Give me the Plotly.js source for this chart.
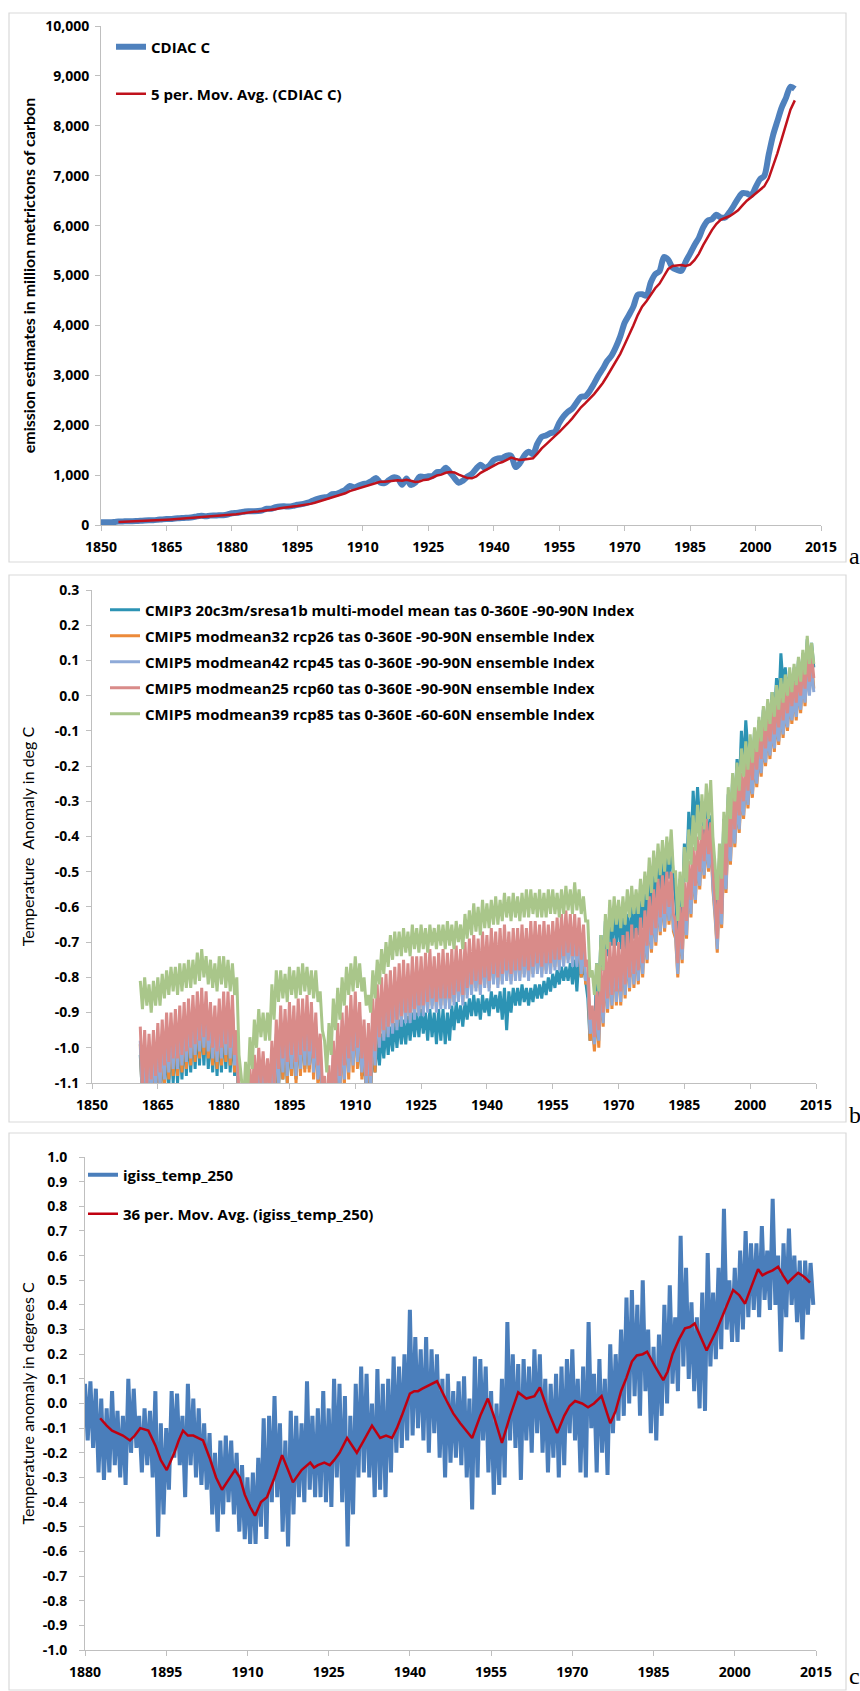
<!DOCTYPE html>
<html><head><meta charset="utf-8">
<script src="https://cdn.plot.ly/plotly-3.0.1.min.js"></script>
<style>html,body{margin:0;padding:0;background:#fff;}#chart{width:860px;height:1691px;}</style>
</head><body><div id="chart"></div>
<script>
// ---------- Panel a: CDIAC emissions (million metric tons C), 1850-2009 ----------
const cdiacStart = 1850;
const cdiac = [
54,54,57,59,69,71,76,77,78,83,
91,95,97,104,112,119,122,130,135,142,
147,156,173,184,174,188,191,194,196,210,
236,243,256,272,275,277,281,295,327,327,
356,372,374,370,383,406,419,440,465,507,
534,552,566,617,624,663,707,784,750,785,
819,836,879,943,850,838,901,955,936,806,
932,803,845,970,963,975,983,1062,1065,1145,
1053,940,847,893,973,1027,1130,1209,1142,1192,
1299,1334,1342,1391,1383,1160,1238,1392,1469,1419,
1630,1767,1795,1841,1865,2043,2177,2270,2330,2454,
2569,2580,2686,2833,2995,3130,3288,3393,3566,3780,
4053,4208,4376,4614,4623,4596,4864,5026,5087,5369,
5315,5152,5113,5094,5280,5439,5607,5752,5965,6097,
6127,6217,6164,6162,6266,6398,6542,6651,6643,6610,
6765,6927,6996,7416,7807,8093,8370,8566,8783,8740];
const cdiacMAStart = 1854;
const cdiacMA = [
59,62,66,70,74,77,
81,85,89,94,100,105,111,117,124,130,
135,142,151,160,167,175,182,186,189,196,
205,216,228,243,256,265,272,280,291,301,
317,335,351,360,371,381,390,404,423,447,
473,500,525,555,579,604,635,679,706,738,
769,795,814,852,865,869,882,897,896,887,
906,886,864,871,903,911,947,991,1010,1046,
1062,1053,1010,976,941,936,974,1046,1096,1140,
1194,1235,1262,1312,1350,1322,1303,1313,1328,1336,
1430,1535,1616,1690,1780,1862,1944,2039,2137,2255,
2360,2441,2524,2624,2733,2845,2986,3128,3274,3431,
3616,3800,3997,4206,4375,4483,4615,4745,4839,4988,
5132,5190,5207,5209,5191,5216,5307,5434,5609,5772,
5910,6032,6114,6153,6187,6241,6306,6404,6500,6569,
6642,6719,6788,6943,7182,7448,7736,8050,8324,8510];
const namesA = ["CDIAC C", "5 per. Mov. Avg. (CDIAC C)"];

// ---------- Panel b: model temperature indices, yearly upper / lower extent of monthly values, 1861-2014 ----------
const bStart = 1861;
const namesB = [
 "CMIP3 20c3m/sresa1b multi-model mean tas 0-360E -90-90N Index",
 "CMIP5 modmean32 rcp26 tas 0-360E -90-90N ensemble Index",
 "CMIP5 modmean42 rcp45 tas 0-360E -90-90N ensemble Index",
 "CMIP5 modmean25 rcp60 tas 0-360E -90-90N ensemble Index",
 "CMIP5 modmean39 rcp85 tas 0-360E -60-60N ensemble Index"];
const tealHi = [
-1.02,-1.03,-1.04,-1.03,-1.01,-1.00,-0.99,-0.98,-0.98,-0.97,
-0.96,-0.95,-0.94,-0.93,-0.92,-0.93,-0.95,-0.96,-0.95,-0.94,
-0.94,-0.95,-1.02,-1.18,-1.18,-1.14,-1.10,-1.08,-1.09,-1.10,
-1.06,-1.00,-0.97,-0.98,-0.96,-0.97,-0.95,-0.95,-0.96,-0.98,
-0.99,-1.04,-1.12,-1.10,-1.05,-1.01,-0.98,-0.96,-0.94,-0.96,
-0.99,-1.04,-1.05,-1.00,-0.97,-0.96,-0.94,-0.94,-0.93,-0.92,
-0.92,-0.91,-0.90,-0.90,-0.89,-0.90,-0.89,-0.90,-0.89,-0.89,
-0.90,-0.88,-0.87,-0.88,-0.87,-0.86,-0.85,-0.86,-0.85,-0.86,
-0.84,-0.85,-0.84,-0.83,-0.84,-0.83,-0.83,-0.82,-0.83,-0.83,
-0.82,-0.82,-0.81,-0.80,-0.79,-0.78,-0.77,-0.77,-0.76,-0.75,
-0.74,-0.76,-0.86,-0.92,-0.76,-0.68,-0.64,-0.61,-0.61,-0.62,
-0.63,-0.62,-0.60,-0.59,-0.57,-0.55,-0.52,-0.50,-0.47,-0.45,
-0.43,-0.42,-0.58,-0.52,-0.42,-0.33,-0.27,-0.26,-0.30,-0.32,
-0.34,-0.55,-0.46,-0.35,-0.28,-0.24,-0.18,-0.10,-0.07,-0.13,
-0.10,-0.07,-0.04,-0.02,0.01,0.05,0.12,0.08,0.06,0.08,
0.10,0.12,0.16,0.15];
const tealLo = [
-1.14,-1.15,-1.15,-1.14,-1.13,-1.12,-1.11,-1.10,-1.10,-1.09,
-1.08,-1.07,-1.06,-1.05,-1.05,-1.06,-1.07,-1.08,-1.07,-1.06,
-1.07,-1.08,-1.20,-1.26,-1.26,-1.22,-1.18,-1.16,-1.18,-1.19,
-1.16,-1.12,-1.09,-1.10,-1.08,-1.09,-1.07,-1.06,-1.06,-1.05,
-1.06,-1.12,-1.20,-1.18,-1.13,-1.09,-1.06,-1.04,-1.02,-1.03,
-1.08,-1.12,-1.12,-1.07,-1.05,-1.03,-1.02,-1.01,-1.00,-0.99,
-0.99,-0.98,-0.97,-0.97,-0.96,-0.98,-0.97,-0.99,-0.98,-0.99,
-0.98,-0.95,-0.93,-0.94,-0.92,-0.91,-0.91,-0.92,-0.90,-0.91,
-0.89,-0.90,-0.92,-0.95,-0.90,-0.88,-0.88,-0.87,-0.88,-0.87,
-0.86,-0.86,-0.85,-0.84,-0.83,-0.82,-0.81,-0.81,-0.82,-0.84,
-0.80,-0.82,-0.98,-0.99,-0.86,-0.78,-0.74,-0.71,-0.71,-0.72,
-0.72,-0.71,-0.69,-0.68,-0.66,-0.64,-0.61,-0.59,-0.56,-0.54,
-0.52,-0.52,-0.68,-0.62,-0.52,-0.44,-0.38,-0.36,-0.40,-0.42,
-0.44,-0.64,-0.56,-0.45,-0.37,-0.32,-0.27,-0.20,-0.16,-0.22,
-0.19,-0.15,-0.12,-0.10,-0.07,-0.03,0.03,0.00,-0.02,0.01,
0.03,0.05,0.08,0.08];
const orangeHi = [
-0.99,-1.00,-1.01,-1.00,-0.98,-0.97,-0.95,-0.95,-0.94,-0.93,
-0.92,-0.91,-0.90,-0.89,-0.88,-0.89,-0.92,-0.93,-0.91,-0.89,
-0.89,-0.90,-1.00,-1.17,-1.17,-1.11,-1.07,-1.05,-1.06,-1.08,
-1.03,-0.97,-0.93,-0.94,-0.92,-0.93,-0.91,-0.91,-0.90,-0.92,
-0.95,-1.01,-1.13,-1.10,-1.03,-0.98,-0.95,-0.93,-0.90,-0.89,
-0.92,-0.97,-0.98,-0.91,-0.87,-0.85,-0.84,-0.83,-0.82,-0.81,
-0.80,-0.81,-0.79,-0.79,-0.79,-0.78,-0.77,-0.79,-0.78,-0.77,
-0.78,-0.77,-0.76,-0.77,-0.75,-0.74,-0.73,-0.74,-0.72,-0.73,
-0.71,-0.72,-0.71,-0.70,-0.72,-0.71,-0.71,-0.70,-0.71,-0.69,
-0.69,-0.70,-0.69,-0.70,-0.69,-0.68,-0.67,-0.66,-0.67,-0.67,
-0.68,-0.70,-0.80,-0.93,-0.89,-0.82,-0.77,-0.75,-0.74,-0.75,
-0.73,-0.72,-0.70,-0.71,-0.68,-0.66,-0.62,-0.60,-0.57,-0.56,
-0.55,-0.55,-0.69,-0.65,-0.58,-0.52,-0.48,-0.45,-0.42,-0.40,
-0.41,-0.63,-0.55,-0.45,-0.38,-0.33,-0.30,-0.27,-0.24,-0.21,
-0.18,-0.16,-0.13,-0.10,-0.08,-0.06,-0.04,-0.03,-0.01,0.01,
0.03,0.05,0.09,0.10];
const orangeLo = [
-1.16,-1.16,-1.15,-1.14,-1.13,-1.11,-1.09,-1.08,-1.08,-1.07,
-1.06,-1.05,-1.04,-1.03,-1.02,-1.03,-1.05,-1.06,-1.05,-1.04,
-1.05,-1.07,-1.20,-1.26,-1.26,-1.21,-1.18,-1.16,-1.18,-1.19,
-1.16,-1.12,-1.09,-1.10,-1.08,-1.10,-1.08,-1.07,-1.07,-1.09,
-1.11,-1.16,-1.26,-1.24,-1.18,-1.14,-1.11,-1.09,-1.07,-1.06,
-1.09,-1.14,-1.14,-1.07,-0.99,-0.97,-0.96,-0.95,-0.94,-0.93,
-0.92,-0.92,-0.91,-0.90,-0.90,-0.89,-0.88,-0.89,-0.88,-0.88,
-0.88,-0.87,-0.86,-0.87,-0.85,-0.84,-0.83,-0.84,-0.82,-0.83,
-0.81,-0.82,-0.81,-0.80,-0.81,-0.80,-0.80,-0.79,-0.80,-0.79,
-0.78,-0.79,-0.78,-0.78,-0.77,-0.77,-0.76,-0.75,-0.76,-0.76,
-0.80,-0.82,-0.98,-1.01,-1.00,-0.94,-0.90,-0.89,-0.88,-0.88,
-0.86,-0.84,-0.83,-0.82,-0.80,-0.76,-0.73,-0.71,-0.68,-0.67,
-0.65,-0.67,-0.80,-0.76,-0.69,-0.63,-0.59,-0.55,-0.52,-0.50,
-0.55,-0.73,-0.66,-0.56,-0.48,-0.43,-0.39,-0.35,-0.32,-0.29,
-0.26,-0.23,-0.20,-0.18,-0.16,-0.14,-0.12,-0.10,-0.08,-0.07,
-0.05,-0.03,0.01,0.02];
const lblueHi = [
-0.98,-0.99,-1.00,-0.99,-0.97,-0.96,-0.94,-0.94,-0.93,-0.92,
-0.91,-0.90,-0.89,-0.88,-0.87,-0.88,-0.91,-0.92,-0.90,-0.88,
-0.88,-0.89,-0.99,-1.16,-1.16,-1.10,-1.06,-1.04,-1.05,-1.07,
-1.02,-0.96,-0.92,-0.93,-0.91,-0.92,-0.90,-0.90,-0.89,-0.91,
-0.94,-1.00,-1.12,-1.09,-1.02,-0.97,-0.94,-0.92,-0.89,-0.88,
-0.91,-0.96,-0.97,-0.90,-0.86,-0.84,-0.83,-0.82,-0.81,-0.80,
-0.79,-0.80,-0.78,-0.78,-0.78,-0.77,-0.76,-0.78,-0.77,-0.76,
-0.77,-0.76,-0.75,-0.76,-0.74,-0.73,-0.72,-0.73,-0.71,-0.72,
-0.70,-0.71,-0.70,-0.69,-0.71,-0.70,-0.70,-0.69,-0.70,-0.68,
-0.68,-0.69,-0.68,-0.69,-0.68,-0.67,-0.66,-0.65,-0.66,-0.66,
-0.67,-0.69,-0.79,-0.92,-0.88,-0.81,-0.76,-0.74,-0.73,-0.74,
-0.72,-0.71,-0.69,-0.70,-0.67,-0.65,-0.61,-0.59,-0.56,-0.55,
-0.54,-0.54,-0.68,-0.64,-0.57,-0.51,-0.47,-0.44,-0.41,-0.39,
-0.40,-0.62,-0.54,-0.44,-0.37,-0.32,-0.29,-0.26,-0.23,-0.20,
-0.17,-0.15,-0.12,-0.10,-0.08,-0.06,-0.04,-0.03,-0.01,0.00,
0.02,0.04,0.07,0.08];
const lblueLo = [
-1.14,-1.14,-1.13,-1.12,-1.11,-1.09,-1.07,-1.06,-1.06,-1.05,
-1.04,-1.03,-1.02,-1.01,-1.00,-1.01,-1.03,-1.04,-1.03,-1.02,
-1.03,-1.05,-1.18,-1.24,-1.24,-1.19,-1.16,-1.14,-1.16,-1.17,
-1.14,-1.10,-1.07,-1.08,-1.06,-1.08,-1.06,-1.05,-1.05,-1.07,
-1.09,-1.14,-1.24,-1.22,-1.16,-1.12,-1.09,-1.07,-1.05,-1.04,
-1.07,-1.12,-1.12,-1.05,-1.00,-0.98,-0.97,-0.96,-0.95,-0.94,
-0.93,-0.93,-0.92,-0.91,-0.91,-0.90,-0.89,-0.90,-0.89,-0.89,
-0.89,-0.88,-0.87,-0.88,-0.86,-0.85,-0.84,-0.85,-0.83,-0.84,
-0.82,-0.83,-0.82,-0.81,-0.82,-0.81,-0.81,-0.80,-0.81,-0.80,
-0.79,-0.80,-0.79,-0.79,-0.78,-0.78,-0.77,-0.76,-0.77,-0.77,
-0.79,-0.81,-0.96,-0.99,-0.98,-0.93,-0.89,-0.88,-0.87,-0.87,
-0.85,-0.83,-0.82,-0.81,-0.79,-0.75,-0.72,-0.70,-0.67,-0.66,
-0.64,-0.66,-0.79,-0.75,-0.68,-0.62,-0.58,-0.54,-0.51,-0.49,
-0.54,-0.72,-0.65,-0.55,-0.47,-0.42,-0.38,-0.34,-0.31,-0.28,
-0.25,-0.22,-0.19,-0.17,-0.15,-0.13,-0.11,-0.09,-0.07,-0.06,
-0.04,-0.02,0.00,0.01];
const pinkHi = [
-0.94,-0.95,-0.96,-0.95,-0.93,-0.92,-0.90,-0.90,-0.89,-0.88,
-0.87,-0.86,-0.85,-0.84,-0.83,-0.84,-0.87,-0.88,-0.86,-0.84,
-0.84,-0.85,-0.95,-1.12,-1.12,-1.06,-1.02,-1.00,-1.01,-1.03,
-0.98,-0.92,-0.88,-0.89,-0.87,-0.88,-0.86,-0.86,-0.85,-0.87,
-0.90,-0.96,-1.08,-1.05,-0.98,-0.93,-0.90,-0.88,-0.85,-0.84,
-0.87,-0.92,-0.93,-0.86,-0.82,-0.80,-0.79,-0.78,-0.77,-0.76,
-0.75,-0.76,-0.74,-0.74,-0.74,-0.73,-0.72,-0.74,-0.73,-0.72,
-0.73,-0.72,-0.71,-0.72,-0.70,-0.69,-0.68,-0.69,-0.67,-0.68,
-0.66,-0.67,-0.66,-0.65,-0.67,-0.66,-0.66,-0.65,-0.66,-0.64,
-0.64,-0.65,-0.64,-0.65,-0.64,-0.63,-0.62,-0.61,-0.62,-0.62,
-0.63,-0.65,-0.75,-0.88,-0.84,-0.77,-0.72,-0.70,-0.69,-0.70,
-0.68,-0.67,-0.65,-0.66,-0.63,-0.61,-0.57,-0.55,-0.52,-0.51,
-0.50,-0.50,-0.64,-0.60,-0.53,-0.47,-0.43,-0.40,-0.37,-0.35,
-0.36,-0.58,-0.50,-0.40,-0.33,-0.28,-0.25,-0.22,-0.19,-0.16,
-0.13,-0.11,-0.08,-0.06,-0.04,-0.02,0.00,0.01,0.03,0.04,
0.06,0.08,0.11,0.12];
const pinkLo = [
-1.10,-1.10,-1.09,-1.08,-1.07,-1.05,-1.04,-1.03,-1.03,-1.02,
-1.01,-1.00,-0.99,-0.98,-0.97,-0.98,-1.00,-1.01,-1.00,-0.99,
-1.00,-1.02,-1.15,-1.20,-1.20,-1.15,-1.12,-1.10,-1.12,-1.13,
-1.10,-1.06,-1.03,-1.04,-1.02,-1.04,-1.02,-1.01,-1.01,-1.03,
-1.05,-1.10,-1.20,-1.18,-1.12,-1.08,-1.05,-1.03,-1.01,-1.00,
-1.03,-1.08,-1.08,-1.01,-0.97,-0.95,-0.94,-0.93,-0.92,-0.91,
-0.90,-0.90,-0.89,-0.88,-0.88,-0.87,-0.86,-0.87,-0.86,-0.86,
-0.86,-0.85,-0.84,-0.85,-0.83,-0.82,-0.81,-0.82,-0.80,-0.81,
-0.79,-0.80,-0.79,-0.78,-0.79,-0.78,-0.78,-0.77,-0.78,-0.77,
-0.76,-0.77,-0.76,-0.76,-0.75,-0.75,-0.74,-0.73,-0.74,-0.74,
-0.75,-0.77,-0.92,-0.97,-0.95,-0.90,-0.86,-0.85,-0.84,-0.84,
-0.82,-0.80,-0.79,-0.78,-0.76,-0.71,-0.68,-0.66,-0.63,-0.62,
-0.60,-0.62,-0.76,-0.72,-0.64,-0.58,-0.54,-0.50,-0.47,-0.45,
-0.50,-0.69,-0.62,-0.51,-0.43,-0.38,-0.34,-0.30,-0.27,-0.24,
-0.21,-0.18,-0.15,-0.13,-0.11,-0.09,-0.07,-0.05,-0.03,-0.02,
0.00,0.02,0.04,0.05];
const greenHi = [
-0.81,-0.80,-0.82,-0.81,-0.80,-0.79,-0.78,-0.77,-0.77,-0.76,
-0.76,-0.75,-0.75,-0.73,-0.72,-0.74,-0.75,-0.76,-0.74,-0.74,
-0.75,-0.76,-0.80,-1.08,-1.04,-0.97,-0.92,-0.89,-0.90,-0.90,
-0.82,-0.78,-0.78,-0.79,-0.77,-0.78,-0.77,-0.76,-0.77,-0.78,
-0.78,-0.84,-0.98,-0.93,-0.86,-0.83,-0.80,-0.77,-0.76,-0.74,
-0.76,-0.80,-0.85,-0.78,-0.75,-0.72,-0.70,-0.68,-0.67,-0.67,
-0.66,-0.67,-0.65,-0.66,-0.65,-0.66,-0.65,-0.66,-0.65,-0.65,
-0.64,-0.65,-0.64,-0.65,-0.62,-0.61,-0.59,-0.60,-0.58,-0.59,
-0.58,-0.57,-0.58,-0.56,-0.57,-0.56,-0.57,-0.56,-0.55,-0.55,
-0.56,-0.55,-0.56,-0.55,-0.55,-0.56,-0.55,-0.54,-0.55,-0.53,
-0.55,-0.57,-0.64,-0.78,-0.76,-0.68,-0.62,-0.58,-0.57,-0.58,
-0.57,-0.55,-0.54,-0.55,-0.52,-0.50,-0.46,-0.44,-0.42,-0.41,
-0.40,-0.38,-0.50,-0.50,-0.43,-0.38,-0.34,-0.31,-0.28,-0.25,
-0.24,-0.48,-0.42,-0.33,-0.26,-0.22,-0.19,-0.15,-0.13,-0.11,
-0.09,-0.06,-0.03,-0.01,0.01,0.03,0.05,0.06,0.08,0.09,
0.11,0.13,0.17,0.15];
const greenLo = [
-0.89,-0.88,-0.90,-0.88,-0.88,-0.86,-0.85,-0.84,-0.85,-0.84,
-0.83,-0.83,-0.82,-0.81,-0.80,-0.82,-0.83,-0.84,-0.82,-0.83,
-0.84,-0.85,-1.02,-1.16,-1.12,-1.06,-1.00,-0.97,-0.98,-0.98,
-0.92,-0.87,-0.86,-0.87,-0.85,-0.86,-0.85,-0.84,-0.85,-0.86,
-0.87,-0.95,-1.07,-1.02,-0.95,-0.92,-0.88,-0.85,-0.84,-0.83,
-0.84,-0.88,-0.90,-0.86,-0.82,-0.79,-0.77,-0.75,-0.74,-0.74,
-0.73,-0.74,-0.72,-0.73,-0.72,-0.73,-0.71,-0.72,-0.71,-0.72,
-0.71,-0.72,-0.70,-0.72,-0.69,-0.68,-0.67,-0.68,-0.66,-0.66,
-0.65,-0.65,-0.64,-0.63,-0.64,-0.63,-0.64,-0.63,-0.63,-0.62,
-0.63,-0.63,-0.63,-0.62,-0.62,-0.63,-0.62,-0.61,-0.62,-0.61,
-0.62,-0.64,-0.80,-0.85,-0.84,-0.78,-0.72,-0.67,-0.65,-0.66,
-0.65,-0.63,-0.62,-0.62,-0.60,-0.58,-0.56,-0.53,-0.51,-0.50,
-0.48,-0.50,-0.64,-0.60,-0.53,-0.48,-0.44,-0.41,-0.38,-0.35,
-0.40,-0.58,-0.52,-0.42,-0.35,-0.30,-0.27,-0.23,-0.21,-0.19,
-0.16,-0.13,-0.10,-0.08,-0.06,-0.04,-0.02,0.00,0.01,0.03,
0.04,0.06,0.09,0.09];
const bTickVals = [0.3,0.2,0.1,0,-0.1,-0.2,-0.3,-0.4,-0.5,-0.6,-0.7,-0.8,-0.9,-1.0,-1.1];
const bTickText = ["0.3","0.2","0.1","0.0","-0.1","-0.2","-0.3","-0.4","-0.5","-0.6","-0.7","-0.8","-0.9","-1.0","-1.1"];

// ---------- Panel c: GISS temperature anomaly, yearly upper / lower extent of monthly values, 1880-2014 ----------
const cStart = 1880;
const namesC = ["igiss_temp_250", "36 per. Mov. Avg. (igiss_temp_250)"];
const gissHi = [
0.08,0.09,0.06,0.02,-0.02,0.05,-0.03,-0.05,0.10,0.06,
-0.05,-0.02,-0.03,0.05,-0.08,-0.10,0.05,0.04,-0.05,0.08,
0.02,-0.02,-0.08,-0.12,-0.20,-0.15,-0.13,-0.15,-0.20,-0.25,
-0.30,-0.28,-0.22,-0.06,-0.05,0.03,-0.08,-0.15,-0.03,-0.05,
-0.08,0.09,-0.05,-0.02,0.05,-0.02,0.10,0.08,0.03,-0.05,
0.08,0.15,0.12,0.00,0.14,0.08,0.10,0.19,0.15,0.20,
0.38,0.27,0.22,0.27,0.22,0.20,0.10,0.12,0.05,0.09,
0.11,0.02,0.19,0.18,0.15,0.05,0.00,0.10,0.33,0.20,
0.16,0.18,0.15,0.22,0.20,0.10,0.08,0.12,0.15,0.18,
0.22,0.10,0.15,0.33,0.12,0.18,0.10,0.24,0.20,0.30,
0.43,0.46,0.40,0.50,0.30,0.23,0.28,0.40,0.48,0.35,
0.68,0.55,0.41,0.35,0.45,0.61,0.45,0.55,0.79,0.50,
0.55,0.62,0.70,0.65,0.65,0.72,0.62,0.83,0.60,0.65,
0.71,0.60,0.58,0.58,0.57];
const gissLo = [
-0.15,-0.18,-0.28,-0.31,-0.28,-0.25,-0.30,-0.33,-0.20,-0.18,
-0.28,-0.25,-0.30,-0.54,-0.45,-0.35,-0.22,-0.25,-0.38,-0.25,
-0.30,-0.33,-0.35,-0.45,-0.52,-0.45,-0.40,-0.45,-0.52,-0.55,
-0.57,-0.57,-0.50,-0.55,-0.40,-0.38,-0.52,-0.58,-0.45,-0.38,
-0.40,-0.35,-0.38,-0.38,-0.40,-0.42,-0.30,-0.40,-0.58,-0.45,
-0.30,-0.28,-0.30,-0.38,-0.35,-0.38,-0.28,-0.20,-0.18,-0.15,
-0.13,-0.10,-0.15,-0.20,-0.12,-0.22,-0.30,-0.24,-0.22,-0.25,
-0.30,-0.43,-0.30,-0.15,-0.28,-0.37,-0.33,-0.30,-0.15,-0.18,
-0.31,-0.15,-0.20,-0.12,-0.20,-0.28,-0.22,-0.30,-0.25,-0.12,
-0.15,-0.28,-0.30,-0.10,-0.28,-0.20,-0.29,-0.12,-0.07,-0.05,
0.00,0.03,-0.05,0.05,-0.12,-0.15,-0.05,0.00,0.08,0.05,
0.15,0.10,0.05,-0.02,-0.03,0.15,0.18,0.22,0.30,0.25,
0.25,0.30,0.35,0.38,0.35,0.42,0.38,0.40,0.21,0.35,
0.40,0.33,0.26,0.36,0.40];
const gissMAYears = [1882.8,1884,1885,1886,1887,1888.3,1889.2,1890.2,1891.7,1893,1894,1895.1,1896.5,1897.3,1898.1,1899,1900,1901.8,1903,1904.2,1905.3,1906.5,1907.7,1908.6,1909.5,1910.5,1911.4,1912.5,1913.6,1915,1916.4,1917.5,1918.4,1920,1921.6,1922.3,1923,1924.2,1925.2,1926,1927,1928.4,1929.3,1930.2,1931.5,1933,1934.5,1935.6,1936.7,1937.6,1938.5,1940,1940.8,1941.5,1942.3,1943.2,1944,1945,1946.8,1948,1949.3,1950.4,1951.5,1953,1954.4,1955.5,1957,1958.5,1960,1961.5,1963,1964,1965.5,1967.2,1968.5,1969.5,1970.5,1971.8,1972.9,1974,1975.4,1977,1978,1979,1980,1981,1981.9,1983,1983.8,1985.3,1986.8,1987.6,1988.5,1989.7,1990.8,1991.7,1992.6,1993.7,1994.8,1996.7,1998,1999.7,2000.8,2001.9,2003,2004.3,2005.1,2005.9,2007,2008,2008.9,2009.8,2010.7,2011.7,2012.4,2013,2013.9];
const gissMA = [-0.06,-0.09,-0.11,-0.12,-0.13,-0.15,-0.13,-0.10,-0.11,-0.17,-0.23,-0.27,-0.20,-0.15,-0.11,-0.13,-0.13,-0.15,-0.22,-0.30,-0.35,-0.31,-0.27,-0.30,-0.37,-0.42,-0.455,-0.40,-0.38,-0.30,-0.21,-0.27,-0.32,-0.27,-0.24,-0.26,-0.25,-0.24,-0.25,-0.23,-0.20,-0.14,-0.17,-0.20,-0.15,-0.09,-0.14,-0.13,-0.14,-0.10,-0.05,0.04,0.05,0.05,0.06,0.07,0.08,0.09,0.01,-0.04,-0.08,-0.11,-0.14,-0.05,0.02,-0.05,-0.16,-0.05,0.045,0.02,0.03,0.065,-0.03,-0.12,-0.05,-0.01,0.01,0.00,-0.015,0.0,0.03,-0.08,-0.03,0.05,0.105,0.17,0.195,0.20,0.21,0.15,0.095,0.13,0.20,0.26,0.305,0.31,0.325,0.27,0.215,0.30,0.37,0.46,0.44,0.405,0.47,0.545,0.52,0.53,0.54,0.555,0.52,0.49,0.51,0.53,0.52,0.51,0.49];
const cTickVals = [1.0,0.9,0.8,0.7,0.6,0.5,0.4,0.3,0.2,0.1,0,-0.1,-0.2,-0.3,-0.4,-0.5,-0.6,-0.7,-0.8,-0.9,-1.0];
const cTickText = ["1.0","0.9","0.8","0.7","0.6","0.5","0.4","0.3","0.2","0.1","0.0","-0.1","-0.2","-0.3","-0.4","-0.5","-0.6","-0.7","-0.8","-0.9","-1.0"];

// ---------- helpers ----------
function yearsFrom(start, n){ const a=[]; for(let i=0;i<n;i++) a.push(start+i); return a; }
// monthly band: trace passes through each year's upper then lower extent
function band(start, hi, lo){
  const x=[], y=[];
  for(let i=0;i<hi.length;i++){ x.push(start+i); y.push(hi[i]); x.push(start+i+0.5); y.push(lo[i]); }
  return {x, y};
}

const W=860, H=1691;
const FONT = '"Open Sans", Lato, sans-serif';
const tickFont = {family: FONT, size: 14, weight: 700, color: '#000'};
const legFont = {family: FONT, size: 15, weight: 700, color: '#000'};
const AX = '#bfbfbf';

const traces = [];
// panel a
traces.push({type:'scatter', mode:'lines', name:namesA[0], x:yearsFrom(cdiacStart, cdiac.length), y:cdiac,
  xaxis:'x', yaxis:'y', legend:'legend', line:{color:'#4f81bd', width:6, shape:'spline', smoothing:0.8}});
traces.push({type:'scatter', mode:'lines', name:namesA[1], x:yearsFrom(cdiacMAStart, cdiacMA.length), y:cdiacMA,
  xaxis:'x', yaxis:'y', legend:'legend2', line:{color:'#c0121c', width:2.5}});
// panel b
const bSeries = [[tealHi,tealLo,'#2c93b4'],[orangeHi,orangeLo,'#ec8a3a'],[lblueHi,lblueLo,'#8eaad8'],[pinkHi,pinkLo,'#d98b89'],[greenHi,greenLo,'#a9c68a']];
bSeries.forEach((s,i)=>{
  const b = band(bStart, s[0], s[1]);
  traces.push({type:'scatter', mode:'lines', name:namesB[i], x:b.x, y:b.y, xaxis:'x2', yaxis:'y2',
    legend:'legend'+(3+i), line:{color:s[2], width:3}});
});
// panel c
const cb = band(cStart, gissHi, gissLo);
traces.push({type:'scatter', mode:'lines', name:namesC[0], x:cb.x, y:cb.y, xaxis:'x3', yaxis:'y3',
  legend:'legend8', line:{color:'#4a7ebb', width:4}});
traces.push({type:'scatter', mode:'lines', name:namesC[1], x:gissMAYears, y:gissMA, xaxis:'x3', yaxis:'y3',
  legend:'legend9', line:{color:'#c00010', width:2.5}});

function xax(d0, d1, r0, r1, anchor){
  return {domain:[d0/W, d1/W], range:[r0, r1], anchor:anchor, tickmode:'linear', tick0:r0, dtick:15,
    showline:true, linecolor:AX, linewidth:1, ticks:'outside', ticklen:5, tickcolor:AX,
    showgrid:false, zeroline:false, tickfont:tickFont, fixedrange:true, ticklabelstandoff:4};
}
function yax(p0, p1, r0, r1, anchor, title, tfont, standoff, lstand, extra){
  return Object.assign({domain:[1-p1/H, 1-p0/H], range:[r0, r1], anchor:anchor,
    showline:true, linecolor:AX, linewidth:1, ticks:'outside', ticklen:5, tickcolor:AX,
    showgrid:false, zeroline:false, tickfont:tickFont, fixedrange:true, ticklabelstandoff:lstand,
    title:{text:title, font:tfont, standoff:standoff}}, extra);
}
function legendAt(xp, yc){
  return {x:xp/W, y:1-yc/H, xanchor:'left', yanchor:'middle', bgcolor:'rgba(0,0,0,0)', borderwidth:0,
    font:legFont, itemwidth:30};
}
function box(y0, y1){
  return {type:'rect', xref:'paper', yref:'paper', x0:9/W, x1:846/W, y0:1-y1/H, y1:1-y0/H,
    line:{color:'#d9d9d9', width:1.2}, fillcolor:'rgba(0,0,0,0)', layer:'below'};
}
function letter(t, yp){
  return {text:t, xref:'paper', yref:'paper', x:847/W, y:1-yp/H, xanchor:'left', yanchor:'middle',
    showarrow:false, font:{family:'"Liberation Serif", "DejaVu Serif", serif', size:24, color:'#000'}};
}

const layout = {
  width:W, height:H, margin:{l:0, r:0, t:0, b:0}, paper_bgcolor:'#fff', plot_bgcolor:'rgba(0,0,0,0)',
  showlegend:true,
  xaxis: xax(101, 821, 1850, 2015, 'y'),
  yaxis: yax(26, 525, 0, 10000, 'x', 'emission estimates in million metrictons of carbon',
    {family:'Lato, sans-serif', size:16, weight:700, color:'#000'}, 5, 3, {tickmode:'linear', tick0:0, dtick:1000, tickformat:','}),
  xaxis2: xax(92, 816, 1850, 2015, 'y2'),
  yaxis2: yax(590, 1083, -1.1, 0.3, 'x2', 'Temperature  Anomaly in deg C',
    {family:'Lato, sans-serif', size:16, weight:400, color:'#000'}, 16, 4, {tickmode:'array', tickvals:bTickVals, ticktext:bTickText}),
  xaxis3: xax(85, 816, 1880, 2015, 'y3'),
  yaxis3: yax(1157, 1650, -1.0, 1.0, 'x3', 'Temperature anomaly in degrees C',
    {family:'Lato, sans-serif', size:16, weight:400, color:'#000'}, 4, 9, {tickmode:'array', tickvals:cTickVals, ticktext:cTickText}),
  legend: legendAt(111, 47),
  legend2: legendAt(111, 94),
  legend3: legendAt(105, 610),
  legend4: legendAt(105, 636),
  legend5: legendAt(105, 662),
  legend6: legendAt(105, 688),
  legend7: legendAt(105, 714),
  legend8: legendAt(83, 1175),
  legend9: legendAt(83, 1214),
  shapes:[box(13, 562), box(575, 1122), box(1133, 1690)],
  annotations:[letter('a', 556), letter('b', 1115), letter('c', 1676)]
};
Plotly.newPlot('chart', traces, layout, {displayModeBar:false, staticPlot:true});
</script></body></html>
